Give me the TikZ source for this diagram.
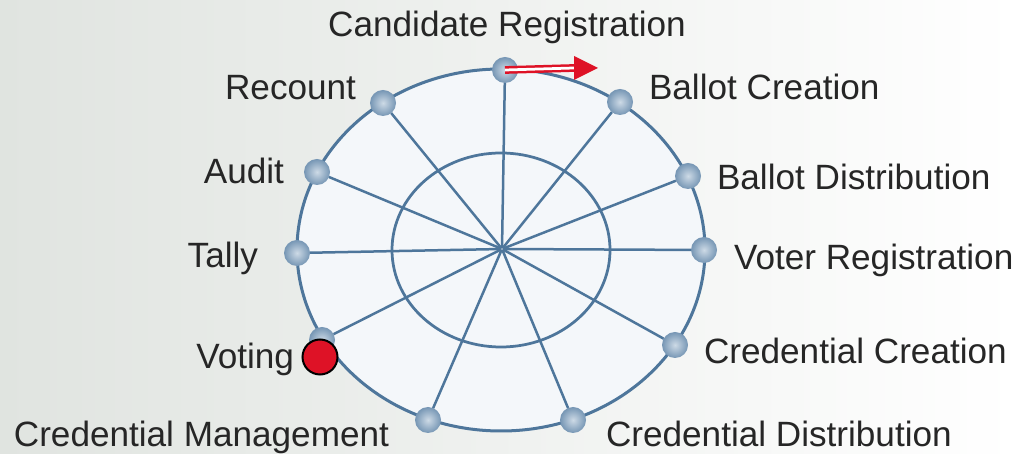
\documentclass[tikz,border=0pt]{standalone}
\usepackage{fontspec}
\setmainfont{Liberation Sans}
\usetikzlibrary{arrows.meta}

\definecolor{spoke}{RGB}{78,118,155}
\definecolor{knobin}{RGB}{205,218,230}
\definecolor{knobout}{RGB}{118,150,180}
\definecolor{votered}{RGB}{222,18,38}
\definecolor{bgleft}{RGB}{224,228,224}
\definecolor{rim}{RGB}{244,247,250}

\begin{document}
\begin{tikzpicture}[x=0.2mm, y=0.2mm]
\tikzset{ >=latex, inner sep=0pt, outer sep=0pt }
\tikzset{
  knob/.style={circle, minimum size=5.2mm, shading=radial, inner color=knobin, outer color=knobout},
  lbl/.style={font=\fontsize{20}{24}\selectfont, text=black!85},
  wire/.style={draw=spoke, line width=0.5mm},
}
\useasboundingbox (0,0) rectangle (1016,454);
\shade [left color=bgleft, right color=white] (0,0) rectangle (1016,454);

%\draw [lightgray, dashed](0,0) grid[step=50] (1016,454);

\fill [rim] (501,204) ellipse [x radius=204, y radius=181];
\draw [spoke, line width=0.6mm] (501,204) ellipse [x radius=204, y radius=181];
\draw [spoke, line width=0.55mm] (501,204) ellipse [x radius=109, y radius=97];

\node [circle] (HUB) at (502,205) {};

\node [knob] (CR) at (505,384) {};
\node [knob] (BC) at (620,352) {};
\node [knob] (BD) at (688,278) {};
\node [knob] (VR) at (704,204) {};
\node [knob] (CC) at (675,109) {};
\node [knob] (CD) at (573,34)  {};
\node [knob] (CM) at (428,34)  {};
\node [knob] (VO) at (322,114) {};
\node [knob] (TA) at (297,201) {};
\node [knob] (AU) at (317,282) {};
\node [knob] (RE) at (383,351) {};

\draw [wire] (HUB) -- (CR);
\draw [wire] (HUB) -- (BC);
\draw [wire] (HUB) -- (BD);
\draw [wire] (HUB) -- (VR);
\draw [wire] (HUB) -- (CC);
\draw [wire] (HUB) -- (CD);
\draw [wire] (HUB) -- (CM);
\draw [wire] (HUB) -- (VO);
\draw [wire] (HUB) -- (TA);
\draw [wire] (HUB) -- (AU);
\draw [wire] (HUB) -- (RE);

% red marker and arrow
\node [circle, fill=votered, draw=black, line width=0.4mm, minimum size=7mm] (MARK) at (320,97) {};
\coordinate (BASE) at (574,386);
\coordinate (TIP) at (598,386);
\draw [votered, line width=0.5mm, double=white, double distance=0.55mm] (CR.center) -- (BASE);
\fill [votered] ([yshift=2.4mm]BASE) -- (TIP) -- ([yshift=-2.4mm]BASE) -- cycle;

\node [lbl, anchor=base]      (tCR) at (507,417) {Candidate Registration};
\node [lbl, anchor=base west] (tBC) at (649,354) {Ballot Creation};
\node [lbl, anchor=base west] (tBD) at (717,264) {Ballot Distribution};
\node [lbl, anchor=base west] (tVR) at (734,184) {Voter Registration};
\node [lbl, anchor=base west] (tCC) at (704,90)  {Credential Creation};
\node [lbl, anchor=base west] (tCD) at (606,7)   {Credential Distribution};
\node [lbl, anchor=base east] (tCM) at (389,7)   {Credential Management};
\node [lbl, anchor=base east] (tVO) at (294,85)  {Voting};
\node [lbl, anchor=base east] (tTA) at (258,186) {Tally};
\node [lbl, anchor=base east] (tAU) at (284,270) {Audit};
\node [lbl, anchor=base east] (tRE) at (356,354) {Recount};

\end{tikzpicture}
\end{document}
